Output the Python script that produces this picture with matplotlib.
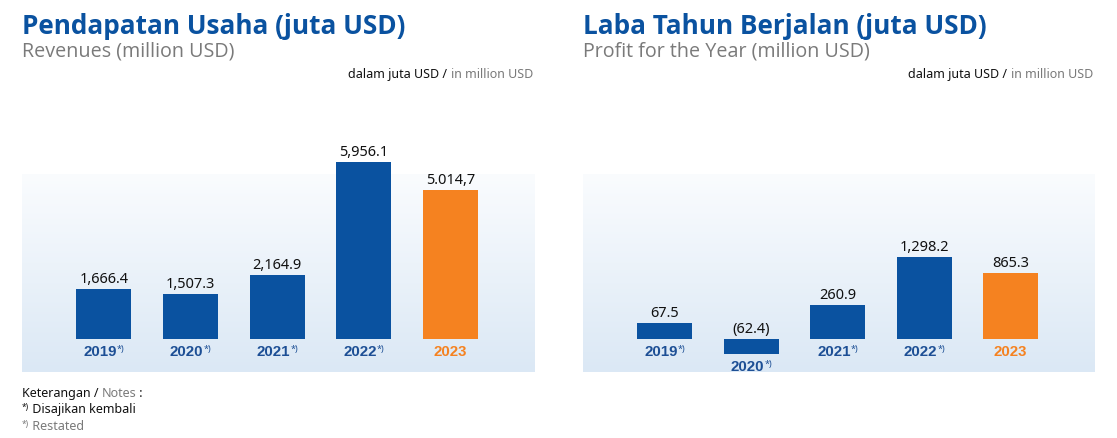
import numpy as np
import matplotlib
matplotlib.use("Agg")
import matplotlib.pyplot as plt
from matplotlib.colors import LinearSegmentedColormap
from matplotlib.offsetbox import TextArea, HPacker, AnnotationBbox

# data
years = ['2019', '2020', '2021', '2022', '2023']
restated = [True, True, True, True, False]
revenue = [1666.4, 1507.3, 2164.9, 5956.1, 5014.7]
revenue_labels = ['1,666.4', '1,507.3', '2,164.9', '5,956.1', '5.014,7']
profit = [67.5, -62.4, 260.9, 1298.2, 865.3]
profit_labels = ['67.5', '(62.4)', '260.9', '1,298.2', '865.3']

BLUE = '#0a52a0'
YEAR_BLUE = '#1d4f95'
ORANGE = '#f58220'
GRAY = '#7a7a7a'
TITLE_FONT = 'Open Sans'
TEXT_FONT = 'Noto Sans'
YEAR_FONT = 'Liberation Sans'

W, H = 1117, 439
fig = plt.figure(figsize=(W / 100, H / 100), dpi=100)

# panel geometry in pixels (top origin)
AX_TOP, AX_BOTTOM, BASE = 100, 372.7, 340
BG_TOP = 175

bg_cmap = LinearSegmentedColormap.from_list('bg', ['#fafcfe', '#dbe8f5'])


def rich(parts, xy, coords, box_align, box_xy=None, align='baseline', sep=0):
    boxes = [TextArea(t, textprops=p) for t, p in parts]
    pack = HPacker(children=boxes, align=align, pad=0, sep=sep)
    kw = dict(xycoords=coords, box_alignment=box_align, frameon=False, pad=0)
    if box_xy is not None:
        kw.update(xybox=box_xy, boxcoords='offset pixels')
    return AnnotationBbox(pack, xy, **kw)


def panel(x0, x1, title, subtitle, values, labels, peak_px, power):
    fwd = lambda v: np.sign(v) * np.abs(v) ** power
    inv = lambda v: np.sign(v) * np.abs(v) ** (1 / power)

    ax = fig.add_axes([x0 / W, (H - AX_BOTTOM) / H, (x1 - x0) / W,
                       (AX_BOTTOM - AX_TOP) / H])
    ax.axis('off')
    grad = np.linspace(0, 1, 256).reshape(-1, 1)
    ax.imshow(grad, cmap=bg_cmap, aspect='auto', origin='upper',
              extent=(0, 1, 0, (AX_BOTTOM - BG_TOP) / (AX_BOTTOM - AX_TOP)),
              transform=ax.transAxes, zorder=0)

    if power != 1:
        ax.set_yscale('function', functions=(fwd, inv))

    x = np.arange(len(years))
    colors = [BLUE] * (len(years) - 1) + [ORANGE]
    ax.bar(x, values, width=0.635, color=colors, zorder=2)

    for i, (v, lab) in enumerate(zip(values, labels)):
        ax.annotate(lab, (i, max(v, 0)), xytext=(0, 7), textcoords='offset pixels',
                    ha='center', va='baseline', fontsize=10.5,
                    family=TEXT_FONT, color='#111111', zorder=3)
        col = YEAR_BLUE if restated[i] else ORANGE
        parts = [(years[i], dict(fontsize=10.8, fontweight='bold', family=YEAR_FONT, color=col))]
        if restated[i]:
            parts.append(('*)', dict(fontsize=6.5, fontweight='bold', family=TEXT_FONT, color=col)))
        ab = rich(parts, (i, min(v, 0)), 'data', (0.5, 1), box_xy=(0, -5), align='top')
        ax.add_artist(ab)

    ax.set_xlim(-0.945, 4.975)
    k = fwd(max(values)) / peak_px
    ax.set_ylim(inv(-(AX_BOTTOM - BASE) * k), inv((BASE - AX_TOP) * k))

    # headings
    fig.text(x0 / W, 1 - 27 / H, title, family=TITLE_FONT, fontweight='bold',
             fontsize=18.8, color=BLUE, va='center', ha='left')
    fig.text(x0 / W, 1 - 52 / H, subtitle, family=TITLE_FONT, fontsize=14.2,
             color=GRAY, va='center', ha='left')
    unit = rich([('dalam juta USD / ', dict(fontsize=9, family=TEXT_FONT, color='#111111')),
                 ('in million USD', dict(fontsize=9, family=TEXT_FONT, color=GRAY))],
                (x1 - 2, H - 75), 'figure pixels', (1, 0.5))
    fig.add_artist(unit)
    return ax


panel(22, 535, 'Pendapatan Usaha (juta USD)', 'Revenues (million USD)',
      revenue, revenue_labels, 177, 1)
panel(583, 1095, 'Laba Tahun Berjalan (juta USD)', 'Profit for the Year (million USD)',
      profit, profit_labels, 82, 0.55)

# notes
note = dict(fontsize=9, family=TEXT_FONT)
sup = dict(fontsize=6, family=TEXT_FONT)
fig.add_artist(rich([('Keterangan / ', dict(note, color='#111111')),
                     ('Notes', dict(note, color=GRAY)),
                     (' :', dict(note, color='#111111'))],
                    (22, H - 394), 'figure pixels', (0, 0.5)))
fig.add_artist(rich([('*)', dict(sup, color='#111111')),
                     (' Disajikan kembali', dict(note, color='#111111'))],
                    (22, H - 410), 'figure pixels', (0, 0.5), align='top'))
fig.add_artist(rich([('*)', dict(sup, color=GRAY)),
                     (' Restated', dict(note, color=GRAY))],
                    (22, H - 427), 'figure pixels', (0, 0.5), align='top'))

fig.savefig('out.png', dpi=100)
